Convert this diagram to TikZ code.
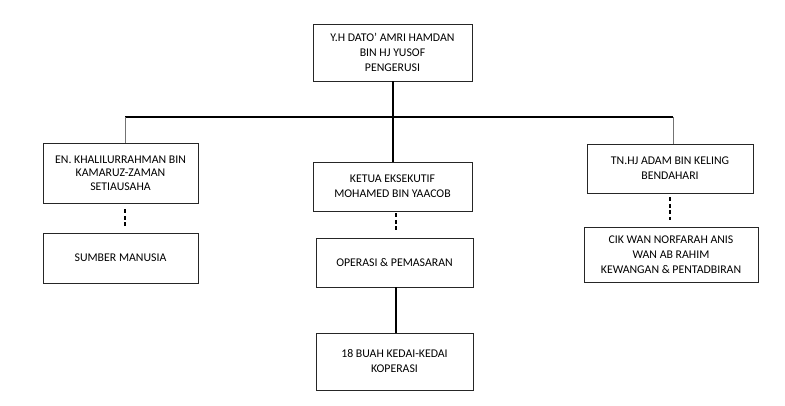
\documentclass[tikz,border=0pt]{standalone}
\usepackage{fontspec}
\setmainfont{Carlito}
\usetikzlibrary{calc}
\begin{document}
\begin{tikzpicture}[x=1pt,y=-1pt,
  box/.style={draw=black!85,line width=0.9pt,inner sep=0pt,align=center,
    font=\fontsize{11.8}{15}\selectfont},
  thickline/.style={line width=2pt},
  thinline/.style={line width=0.8pt,draw=black!55},
  dashline/.style={line width=1.6pt,dash pattern=on 4pt off 2.5pt}]
\useasboundingbox (0,0) rectangle (785,405);
\node[box,minimum width=159,minimum height=57] (top) at (392.5,52.5)
  {Y.H DATO’ AMRI HAMDAN\\BIN HJ YUSOF\\PENGERUSI};
\node[box,minimum width=155,minimum height=60,font=\fontsize{11.8}{13.5}\selectfont] (sec) at (120.5,173)
  {EN. KHALILURRAHMAN BIN\\KAMARUZ-ZAMAN\\SETIAUSAHA};
\node[box,minimum width=155,minimum height=50] (hr) at (120.5,258) {SUMBER MANUSIA};
\node[box,minimum width=159,minimum height=49] (ceo) at (392.5,186.5)
  {KETUA EKSEKUTIF\\MOHAMED BIN YAACOB};
\node[box,minimum width=157,minimum height=49] (ops) at (394.5,262.5) {OPERASI \& PEMASARAN};
\node[box,minimum width=157,minimum height=57] (shop) at (394.5,361.5)
  {\raisebox{-4pt}{\begin{tabular}{@{}c@{}}18 BUAH KEDAI-KEDAI\\KOPERASI\end{tabular}}};
\node[box,minimum width=166,minimum height=49] (tre) at (670,168.5)
  {\raisebox{3pt}{\begin{tabular}{@{}c@{}}TN.HJ ADAM BIN KELING\\BENDAHARI\end{tabular}}};
\node[box,minimum width=174,minimum height=55] (fin) at (671,254.5)
  {CIK WAN NORFARAH ANIS\\WAN AB RAHIM\\KEWANGAN \& PENTADBIRAN};
\coordinate (hl) at (125,117);
\coordinate (hr2) at (673,117);
\coordinate (c1) at (396,0);
\draw[thickline] (hl) -- (hr2);
\draw[thickline] (top.south) -- (ceo.north);
\draw[thinline] (hl) -- (hl |- sec.north);
\draw[thinline] (hr2) -- (hr2 |- tre.north);
\draw[dashline,shorten <=6pt,shorten >=5pt] (sec.south -| hl) -- (hr.north -| hl);
\draw[dashline,shorten <=2pt,shorten >=7pt] (ceo.south -| c1) -- (ops.north -| c1);
\draw[dashline,shorten <=4pt,shorten >=7pt] (tre.south) -- (tre.south |- fin.north);
\draw[thickline] (ops.south -| c1) -- (shop.north -| c1);
\end{tikzpicture}
\end{document}
